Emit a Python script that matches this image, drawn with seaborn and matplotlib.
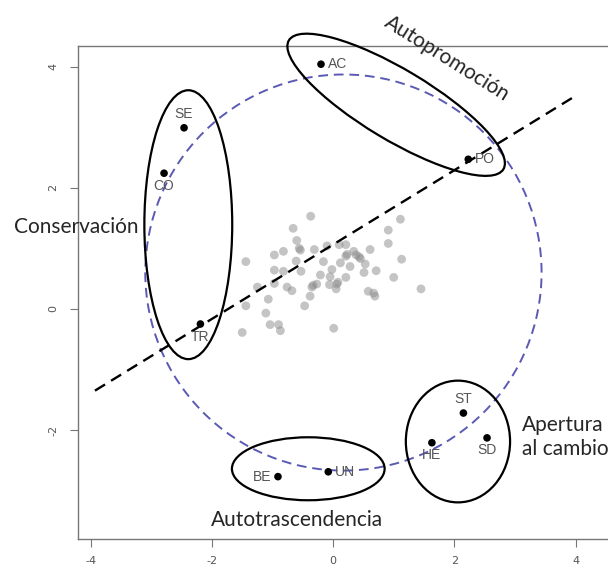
import matplotlib.pyplot as plt
import numpy as np
import pandas as pd
import seaborn as sns
from matplotlib.patches import Ellipse, Circle

# Valores de cada dimensión
etiquetas = ["AC", "SE", "CO", "TR", "PO", "ST", "HE", "SD", "BE", "UN"]
valores_x = [-0.20, -2.46, -2.79, -2.19, 2.23, 2.15, 1.63, 2.54, -0.91, -0.08]
valores_y = [4.04, 2.99, 2.24, -0.25, 2.47, -1.72, -2.21, -2.13, -2.77, -2.69]

# Nube de individuos (gris)
nube_x = [-0.37, -0.66, -0.60, -0.56, -0.54, -0.82, -0.97, -1.44, -0.61, -0.31,
          -0.10, 0.10, 0.21, 0.34, 0.21, 0.23, 0.43, 0.45, 0.61, 0.91,
          1.11, 0.91, 1.13, 1.00, 1.45, 0.71, 0.51, 0.53, 0.28, 0.12,
          -0.02, -0.21, -0.16, -0.05, 0.06, 0.08, 0.21, -0.06, 0.05, -0.27,
          -0.35, -0.33, -0.38, -0.53, -0.82, -0.97, -0.97, -0.76, -0.68, -1.25,
          -1.07, -1.44, -1.11, -0.47, -1.04, -0.90, -0.87, -1.50, 0.01, 0.58,
          0.69, 0.67, 0.38]
nube_y = [1.53, 1.33, 1.13, 1.00, 0.97, 0.95, 0.89, 0.78, 0.79, 0.98,
          1.04, 1.06, 1.06, 0.95, 0.87, 0.90, 0.86, 0.83, 0.98, 1.30,
          1.48, 1.08, 0.82, 0.52, 0.33, 0.63, 0.60, 0.74, 0.70, 0.76,
          0.65, 0.56, 0.78, 0.53, 0.41, 0.44, 0.52, 0.40, 0.33, 0.41,
          0.36, 0.39, 0.21, 0.62, 0.62, 0.64, 0.42, 0.36, 0.30, 0.36,
          0.16, 0.05, -0.07, 0.05, -0.26, -0.26, -0.36, -0.39, -0.32, 0.29,
          0.21, 0.26, 0.89]

# Recta discontinua
recta_x = [-3.93, 3.94]
recta_y = [-1.35, 3.48]

# Posición de la etiqueta respecto al punto (estilo pos= de R)
posicion = {"AC": "der", "SE": "arr", "CO": "abj", "TR": "abj", "PO": "der",
            "ST": "arr", "HE": "abj", "SD": "abj", "BE": "izq", "UN": "der"}


def plot_circulo_valores():
    sns.set_style("white")
    plt.rcParams["axes.unicode_minus"] = False
    fig = plt.figure(figsize=(6.08, 5.69), dpi=100)
    ax = fig.add_axes([0.1283, 0.0527, 0.898, 0.8664])

    df_nube = pd.DataFrame({"x": nube_x, "y": nube_y})
    sns.scatterplot(data=df_nube, x="x", y="y", ax=ax, color="#8a8a8a",
                    alpha=0.5, s=40, edgecolor="none", zorder=2)

    df = pd.DataFrame({"x": valores_x, "y": valores_y, "lab": etiquetas})
    sns.scatterplot(data=df, x="x", y="y", ax=ax, color="black",
                    s=30, edgecolor="none", zorder=4)

    offs = {"der": ((5, 0), "left", "center"), "izq": ((-5, 0), "right", "center"),
            "arr": ((0, 5), "center", "bottom"), "abj": ((0, -4), "center", "top")}
    for _, fila in df.iterrows():
        d, ha, va = offs[posicion[fila["lab"]]]
        ax.annotate(fila["lab"], (fila["x"], fila["y"]), xytext=d,
                    textcoords="offset points", ha=ha, va=va, fontsize=10,
                    color="#555555", family="Liberation Sans", zorder=5)

    # círculo discontinuo y recta
    ax.add_patch(Circle((0.17, 0.60), 3.27, fill=False, ls=(0, (5, 3)),
                        color="#5a5ab4", lw=1.4, zorder=3))
    ax.plot(recta_x, recta_y, color="black", ls=(0, (5, 3)), lw=1.7, zorder=3)

    # elipses de los grupos
    for c, w, h, a in [((-2.39, 1.39), 1.45, 4.44, 0),
                       ((1.04, 3.37), 4.13, 1.16, -31),
                       ((-0.41, -2.64), 2.52, 1.04, 0),
                       ((2.06, -2.19), 1.72, 2.01, 0)]:
        ax.add_patch(Ellipse(c, w, h, angle=a, fill=False, color="black",
                             lw=1.6, zorder=3, clip_on=False))

    grupo = dict(family="Lato", fontsize=15, color="#262626", clip_on=False)
    ax.text(-4.24, 1.35, "Conservación", ha="center", va="center", **grupo)
    ax.text(1.88, 4.14, "Autopromoción", ha="center", va="center",
            rotation=-32, rotation_mode="anchor", **grupo)
    ax.text(-0.60, -3.48, "Autotrascendencia", ha="center", va="center", **grupo)
    ax.text(3.12, -2.12, "Apertura\nal cambio", ha="left", va="center",
            linespacing=1.25, **grupo)

    ax.set_xlim(-4.21, 4.8)
    ax.set_ylim(-3.80, 4.34)
    ax.set_xticks([-4, -2, 0, 2, 4])
    ax.set_yticks([-2, 0, 2, 4])
    ax.set_xlabel("")
    ax.set_ylabel("")
    for lab in ax.get_yticklabels():
        lab.set_rotation(90)
        lab.set_va("center")
    ax.tick_params(direction="out", length=6, width=0.8, color="#777777",
                   labelcolor="#555555", labelsize=8, left=True, bottom=True)
    ax.tick_params(axis="x", pad=6)
    ax.tick_params(axis="y", pad=8)
    for s in ax.spines.values():
        s.set_color("#777777")
        s.set_linewidth(1.0)

    fig.savefig("out.png", dpi=100)


plot_circulo_valores()
